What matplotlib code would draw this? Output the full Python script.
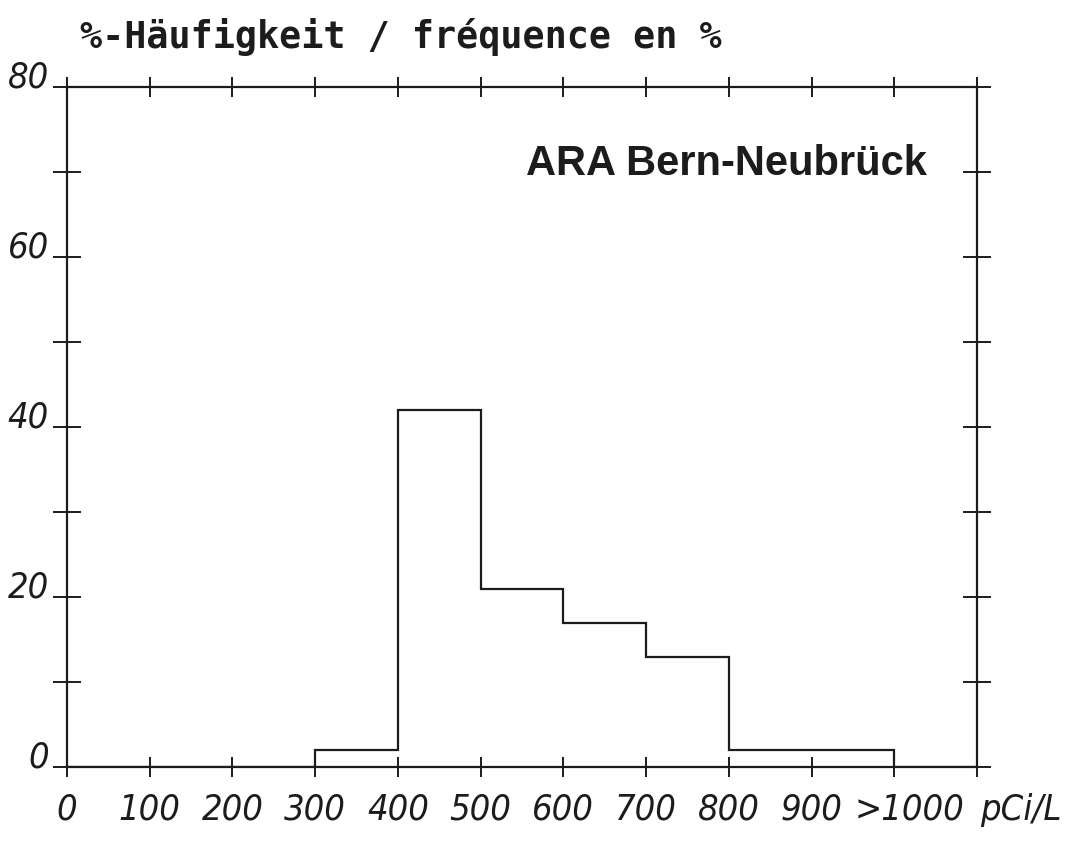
import matplotlib
matplotlib.use("Agg")
import matplotlib.pyplot as plt
from matplotlib import font_manager
from matplotlib.transforms import ScaledTranslation

# radon concentration classes (pCi/L) and % frequency per class
bin_edges = [0, 100, 200, 300, 400, 500, 600, 700, 800, 900, 1000, 1100]
freq_pct = [0, 0, 0, 2, 42, 21, 17, 13, 2, 2, 0]
x_ticks = [0, 100, 200, 300, 400, 500, 600, 700, 800, 900, 1000, 1100]
x_labels = ['0', '100', '200', '300', '400', '500', '600', '700', '800', '900', '>1000', '']
y_ticks = [0, 10, 20, 30, 40, 50, 60, 70, 80]
y_labels = ['0', '', '20', '', '40', '', '60', '', '80']

title = '%-Häufigkeit / fréquence en %'
station = 'ARA Bern-Neubrück'
unit = 'pCi/L'

ink = '#1c1c1c'

names = {f.name for f in font_manager.fontManager.ttflist}
if 'Liberation Sans Narrow' in names:
    tick_font = dict(family='Liberation Sans Narrow', style='italic', size=35)
else:
    tick_font = dict(family='DejaVu Sans', style='oblique', stretch='condensed', size=26)

fig = plt.figure(figsize=(10.87, 8.54), dpi=100, facecolor='white')
ax = fig.add_axes([67/1087, 1 - 768/854, 910/1087, 680/854])

ax.stairs(freq_pct, bin_edges, baseline=0, color=ink, lw=1.6)

ax.set_xlim(0, 1100)
ax.set_ylim(0, 80)
ax.set_xticks(x_ticks)
ax.set_xticklabels(x_labels, color=ink, **tick_font)
ax.set_yticks(y_ticks)
ax.set_yticklabels(y_labels, color=ink, va='baseline', **tick_font)

for s in ax.spines.values():
    s.set_color(ink)
    s.set_linewidth(1.6)

ax.tick_params(axis='x', which='both', direction='inout', length=14, width=1.4,
               color=ink, top=True, bottom=True, pad=11)
ax.tick_params(axis='y', which='both', direction='inout', length=20, width=1.4,
               color=ink, left=True, right=True, pad=3)

# the ">1000" label sits a little right of its tick in the original
lbl = ax.get_xticklabels()[10]
lbl.set_transform(lbl.get_transform() + ScaledTranslation(0.15, 0, fig.dpi_scale_trans))

ax.annotate(unit, xy=(1, 0), xycoords='axes fraction', xytext=(2, -18),
            textcoords='offset points', ha='left', va='top', color=ink, **tick_font)

fig.text(80/1087, 1 - 48/854, title, ha='left', va='baseline',
         family='DejaVu Sans Mono', weight='bold', size=26.5, color=ink)
fig.text(927/1087, 1 - 175/854, station, ha='right', va='baseline',
         family='Liberation Sans', weight='bold', size=30, color=ink)

fig.savefig('out.png', dpi=100, facecolor='white')
